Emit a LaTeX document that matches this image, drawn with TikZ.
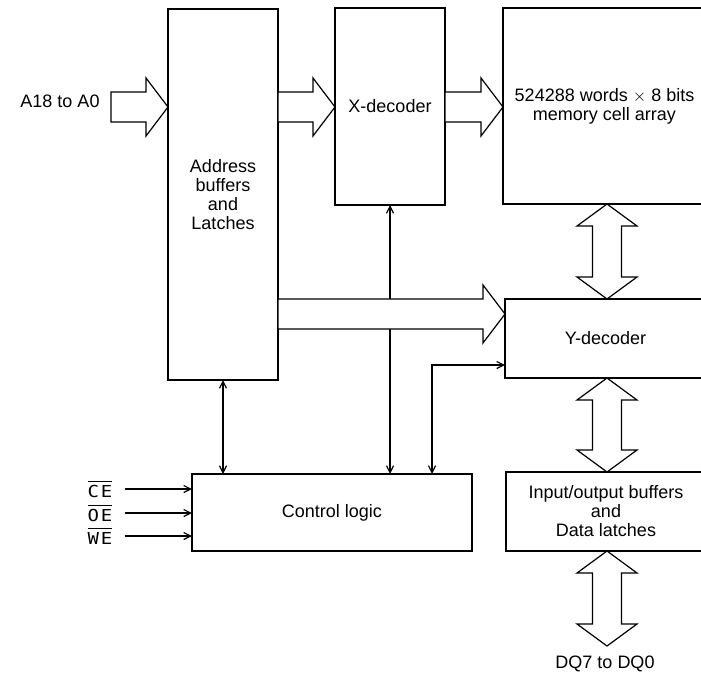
\documentclass[tikz,border=0pt]{standalone}
\usepackage{fontspec}
\setmainfont{Liberation Sans}
\newfontfamily\monof[FakeStretch=1.15]{DejaVu Sans Mono}
\usetikzlibrary{arrows.meta,calc}
\newcommand\ovl[1]{\leavevmode\setbox0\hbox{#1}\rlap{\rule[\dimexpr\ht0+3pt\relax]{\wd0}{1.1pt}}\box0}
\newcommand\fatH[2]{\path[fat] let \p1=#1, \p2=#2 in
  (\x1,\y1+15) -- (\x2-22,\y1+15) -- (\x2-22,\y1+29) -- (\x2,\y1) --
  (\x2-22,\y1-29) -- (\x2-22,\y1-15) -- (\x1,\y1-15) -- cycle;}
\newcommand\fatV[2]{\path[fat] let \p1=#1, \p2=#2 in
  (\x1,\y1) -- (\x1+30,\y1-22) -- (\x1+14.5,\y1-22) -- (\x1+14.5,\y2+22) --
  (\x1+30,\y2+22) -- (\x1,\y2) -- (\x1-30,\y2+22) -- (\x1-14.5,\y2+22) --
  (\x1-14.5,\y1-22) -- (\x1-30,\y1-22) -- cycle;}
\begin{document}
\begin{tikzpicture}[x=1pt,y=-1pt,
  box/.style={draw, line width=1.3pt, inner sep=0pt, outer sep=0pt,
    font=\fontsize{18}{19}\selectfont, align=center, anchor=north west},
  txt/.style={font=\fontsize{18}{19}\selectfont, align=center, inner sep=0pt},
  mono/.style={font=\fontsize{16.5}{18}\monof, inner sep=0pt},
  fat/.style={draw, line width=1.2pt, fill=white, line join=miter},
  barb/.tip={Straight Barb[length=7pt,width=7pt]},
  thin/.style={line width=1.2pt}]
\useasboundingbox (0,0) rectangle (701,683);
\clip (0,0) rectangle (701,683);

% boxes
\node[box, minimum width=110pt, minimum height=371pt] (addr) at (168,9)
  {Address\\buffers\\and\\Latches};
\node[box, minimum width=110pt, minimum height=197pt] (xdec) at (335,8) {X-decoder};
\node[box, minimum width=203pt, minimum height=196pt] (mem) at (503,8)
  {524288 words $\times$ 8 bits\\memory cell array};
\node[box, minimum width=201pt, minimum height=79pt] (ydec) at (505,299) {Y-decoder};
\node[box, minimum width=200pt, minimum height=79pt] (io) at (506,472)
  {Input/output buffers\\and\\Data latches};
\node[box, minimum width=280pt, minimum height=77pt] (ctrl) at (192,474) {Control logic};

% labels
\node[txt] (ain-l) at (60,101) {A18 to A0};
\node[txt] (dq) at (605,664) {DQ7 to DQ0};
\node[mono] (ce) at (100,489) {\ovl{C\kern2pt E}};
\node[mono] (oe) at (100,513) {\ovl{O\kern2pt E}};
\node[mono] (we) at (100,536) {\ovl{W\kern2pt E}};

% helper coordinates
\coordinate (ain) at (111,107);
\coordinate (yA) at (0,107);
\coordinate (yB) at (0,314);
\coordinate (cx) at (607,0);
\coordinate (yk) at (432,365);
\coordinate (dqt) at (607,646);

% thin connectors
\draw[thin, barb-barb] (xdec.south) -- (xdec.south |- ctrl.north);
\draw[thin, barb-barb] (addr.south) -- (addr.south |- ctrl.north);
\draw[thin, barb-barb] (yk |- ctrl.north) -- (yk) -- (yk -| ydec.west);
\draw[thin, -barb] ([xshift=12pt]ce.east) -- (ce.east -| ctrl.west);
\draw[thin, -barb] ([xshift=12pt]oe.east) -- (oe.east -| ctrl.west);
\draw[thin, -barb] ([xshift=12pt]we.east) -- (we.east -| ctrl.west);

% fat arrows
\fatH{(ain)}{(addr.west |- yA)}
\fatH{(addr.east |- yA)}{(xdec.west |- yA)}
\fatH{(xdec.east |- yA)}{(mem.west |- yA)}
\fatH{(addr.east |- yB)}{(ydec.west |- yB)}
\fatV{(mem.south -| cx)}{(ydec.north -| cx)}
\fatV{(ydec.south -| cx)}{(io.north -| cx)}
\fatV{(io.south -| cx)}{(dqt)}
\end{tikzpicture}
\end{document}
